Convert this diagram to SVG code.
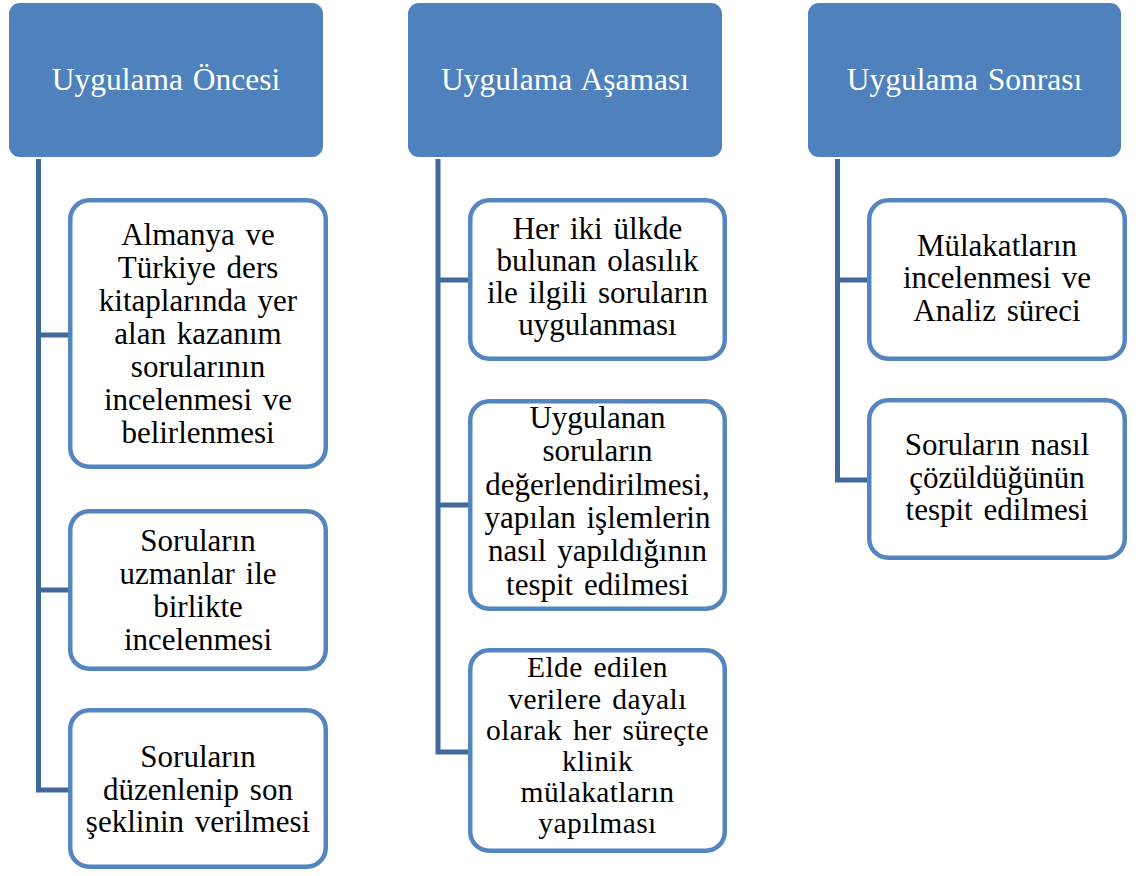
<svg xmlns="http://www.w3.org/2000/svg" width="1138" height="876" viewBox="0 0 1138 876">
<style>
.hdr{fill:#4f81bd}
.hdr-t{font-family:"Liberation Serif","Times New Roman",serif;font-size:31.5px;fill:#ffffff;text-anchor:middle;word-spacing:2px}
.box{fill:#ffffff;stroke:#5585c1;stroke-width:4.5}
.box-t{font-family:"Liberation Serif","Times New Roman",serif;font-size:31px;fill:#000000;text-anchor:middle;word-spacing:3px}
.tight{font-size:29.5px;letter-spacing:0.4px}
.con{fill:none;stroke:#41699c;stroke-width:5;stroke-linejoin:miter;stroke-linecap:butt}
</style>
<rect width="1138" height="876" fill="#ffffff"/>
<g id="connectors">
<path class="con" d="M38.5,159 V790 H70 M38.5,335 H70 M38.5,590 H70"/>
<path class="con" d="M438,159 V752 H470 M438,280 H470 M438,505 H470"/>
<path class="con" d="M837.5,159 V480 H869 M837.5,280 H869"/>
</g>
<g id="h1">
<rect class="hdr" x="9" y="3" width="314" height="154" rx="11"/>
<text class="hdr-t" x="166" y="90">Uygulama Öncesi</text>
</g>
<g id="h2">
<rect class="hdr" x="408" y="3" width="314" height="154" rx="11"/>
<text class="hdr-t" x="565" y="90">Uygulama Aşaması</text>
</g>
<g id="h3">
<rect class="hdr" x="808" y="3" width="313" height="154" rx="11"/>
<text class="hdr-t" x="964.5" y="90">Uygulama Sonrası</text>
</g>
<g id="c1b1">
<rect class="box" x="70.25" y="200.25" width="255.5" height="266.5" rx="19"/>
<text class="box-t"><tspan x="198" y="245">Almanya ve</tspan><tspan x="198" y="278">Türkiye ders</tspan><tspan x="198" y="311">kitaplarında yer</tspan><tspan x="198" y="344">alan kazanım</tspan><tspan x="198" y="377">sorularının</tspan><tspan x="198" y="410">incelenmesi ve</tspan><tspan x="198" y="443">belirlenmesi</tspan></text>
</g>
<g id="c1b2">
<rect class="box" x="70.25" y="511.25" width="255.5" height="157.5" rx="19"/>
<text class="box-t"><tspan x="198" y="551">Soruların</tspan><tspan x="198" y="584">uzmanlar ile</tspan><tspan x="198" y="617">birlikte</tspan><tspan x="198" y="650">incelenmesi</tspan></text>
</g>
<g id="c1b3">
<rect class="box" x="70.25" y="710.25" width="255.5" height="156.5" rx="19"/>
<text class="box-t"><tspan x="198" y="767">Soruların</tspan><tspan x="198" y="800">düzenlenip son</tspan><tspan x="198" y="832">şeklinin verilmesi</tspan></text>
</g>
<g id="c2b1">
<rect class="box" x="470.25" y="200.25" width="254.5" height="158.5" rx="19"/>
<text class="box-t"><tspan x="597.5" y="239">Her iki ülkde</tspan><tspan x="597.5" y="271">bulunan olasılık</tspan><tspan x="597.5" y="303">ile ilgili soruların</tspan><tspan x="597.5" y="335">uygulanması</tspan></text>
</g>
<g id="c2b2">
<rect class="box" x="470.25" y="401.25" width="254.5" height="207.5" rx="19"/>
<text class="box-t"><tspan x="597.5" y="428">Uygulanan</tspan><tspan x="597.5" y="461">soruların</tspan><tspan x="597.5" y="495">değerlendirilmesi,</tspan><tspan x="597.5" y="528">yapılan işlemlerin</tspan><tspan x="597.5" y="561">nasıl yapıldığının</tspan><tspan x="597.5" y="595">tespit edilmesi</tspan></text>
</g>
<g id="c2b3">
<rect class="box" x="470.25" y="650.25" width="254.5" height="200.5" rx="19"/>
<text class="box-t tight"><tspan x="597.5" y="677">Elde edilen</tspan><tspan x="597.5" y="708.5">verilere dayalı</tspan><tspan x="597.5" y="740">olarak her süreçte</tspan><tspan x="597.5" y="771">klinik</tspan><tspan x="597.5" y="802">mülakatların</tspan><tspan x="597.5" y="833">yapılması</tspan></text>
</g>
<g id="c3b1">
<rect class="box" x="869.25" y="200.25" width="255.5" height="158.5" rx="19"/>
<text class="box-t"><tspan x="997" y="256">Mülakatların</tspan><tspan x="997" y="288">incelenmesi ve</tspan><tspan x="997" y="321">Analiz süreci</tspan></text>
</g>
<g id="c3b2">
<rect class="box" x="869.25" y="400.25" width="255.5" height="157.5" rx="19"/>
<text class="box-t"><tspan x="997" y="455">Soruların nasıl</tspan><tspan x="997" y="488">çözüldüğünün</tspan><tspan x="997" y="520">tespit edilmesi</tspan></text>
</g>
</svg>
